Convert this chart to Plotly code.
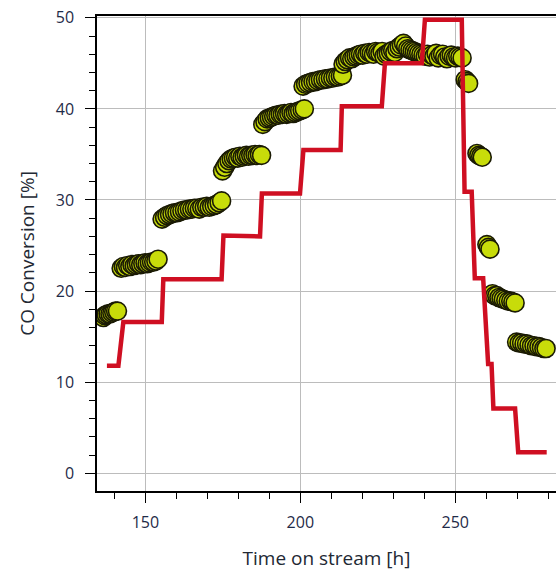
import plotly.graph_objects as go

# Measured CO conversion (markers)
time_h = [
    136.4, 136.9, 137.4, 138.0, 138.6, 139.2, 139.8, 140.4, 141.0,
    142.2, 142.9, 143.6, 144.3, 145.0, 145.7, 146.4, 147.1, 147.8, 148.5,
    149.2, 149.9, 150.6, 151.3, 152.0, 152.7, 153.4, 154.1,
    155.4, 156.2, 157.0, 157.8, 158.6, 159.4, 160.2, 161.0, 161.8, 162.6,
    163.4, 164.2, 165.0, 165.8, 166.6, 167.4, 168.2, 169.0, 169.8, 170.6,
    171.4, 172.2, 173.0, 173.8, 174.6,
    174.9, 175.6, 176.3, 177.0, 177.7, 178.4, 179.1, 179.8, 180.5, 181.2,
    181.9, 182.6, 183.3, 184.0, 184.7, 185.4, 186.1, 186.8, 187.5,
    187.9, 188.6, 189.3, 190.0, 190.7, 191.4, 192.1, 192.8, 193.5, 194.2,
    194.9, 195.6, 196.3, 197.0, 197.7, 198.4, 199.1, 199.8, 200.6, 201.3,
    200.9, 201.7, 202.5, 203.3, 204.1, 204.9, 205.7, 206.5, 207.3, 208.1,
    208.9, 209.7, 210.5, 211.3, 212.1, 212.9, 213.6,
    213.8, 214.5, 215.2, 215.9, 216.6, 217.3, 218.0, 218.7, 219.4, 220.1,
    220.8, 221.5, 222.2, 222.9, 223.6, 224.3, 225.0, 225.7, 226.4,
    227.0, 227.7, 228.4, 229.1, 229.8, 230.5, 231.2, 231.9, 232.6, 233.3,
    234.0, 234.7, 235.4, 236.1, 236.8, 237.5, 238.2, 238.9, 239.6,
    240.3, 241.0, 241.7, 242.4, 243.1, 243.8, 244.5, 245.2, 245.9, 246.6,
    247.3, 248.0, 248.7, 249.4, 250.1, 250.8, 251.5, 252.2,
    253.2, 253.8, 254.3,
    257.0, 257.6, 258.2, 258.7,
    260.2, 260.7, 261.2,
    262.0, 262.7, 263.4, 264.1, 264.8, 265.5, 266.3, 267.1, 267.9, 268.6, 269.3,
    269.8, 270.6, 271.4, 272.2, 273.0, 273.8, 274.6, 275.4, 276.2, 277.0,
    277.8, 278.6, 279.3,
]
co_conv = [
    17.1, 17.3, 17.4, 17.5, 17.5, 17.6, 17.7, 17.8, 17.8,
    22.5, 22.7, 22.6, 22.8, 22.7, 22.9, 22.8, 22.9, 23.0, 22.9,
    23.0, 23.1, 23.0, 23.1, 23.2, 23.2, 23.3, 23.5,
    27.9, 28.1, 28.3, 28.4, 28.5, 28.6, 28.6, 28.7, 28.8, 28.9,
    28.9, 29.0, 29.0, 29.1, 29.1, 29.0, 29.2, 29.2, 29.3, 29.2,
    29.3, 29.4, 29.5, 29.7, 29.9,
    33.2, 33.6, 34.0, 34.3, 34.5, 34.6, 34.7, 34.6, 34.8, 34.7,
    34.8, 34.9, 34.8, 34.9, 34.9, 35.0, 34.9, 35.0, 34.9,
    38.3, 38.6, 38.9, 39.0, 39.1, 39.2, 39.3, 39.3, 39.4, 39.4,
    39.5, 39.4, 39.5, 39.6, 39.5, 39.6, 39.7, 39.8, 39.9, 40.0,
    42.5, 42.7, 42.8, 42.9, 43.0, 43.0, 43.1, 43.2, 43.2, 43.3,
    43.3, 43.4, 43.4, 43.5, 43.5, 43.6, 43.7,
    44.9, 45.2, 45.4, 45.6, 45.5, 45.7, 45.8, 45.9, 46.0, 45.9,
    46.1, 46.0, 46.2, 46.1, 46.0, 46.3, 46.2, 46.1, 46.3,
    45.8, 46.0, 46.1, 46.3, 46.4, 46.2, 46.6, 46.8, 47.0, 47.2,
    46.9, 46.6, 46.5, 46.4, 46.3, 46.2, 46.1, 46.0, 45.9,
    45.8, 46.0, 45.7, 45.9, 45.8, 46.1, 45.6, 45.9, 46.0, 45.7,
    45.5, 45.8, 45.9, 45.7, 45.6, 45.8, 45.7, 45.6,
    43.2, 43.0, 42.8,
    35.1, 34.9, 34.8, 34.7,
    25.1, 24.8, 24.6,
    19.7, 19.5, 19.5, 19.3, 19.2, 19.1, 19.0, 18.9, 18.9, 18.8, 18.7,
    14.4, 14.3, 14.3, 14.2, 14.2, 14.1, 14.0, 14.0, 13.9, 13.9,
    13.8, 13.7, 13.7,
]

# Stepwise reference conversion (red line)
step_time = [137.6, 141.3, 142.9, 155.3, 155.8, 174.6, 175.2, 187.0, 187.6, 199.9,
             201.0, 213.0, 213.4, 226.3, 227.3, 239.2, 240.2, 252.1, 253.0, 255.3,
             256.3, 259.0, 260.6, 261.7, 262.3, 269.3, 270.3, 279.5]
step_conv = [11.8, 11.8, 16.6, 16.6, 21.3, 21.3, 26.1, 26.0, 30.7, 30.7,
             35.5, 35.5, 40.3, 40.3, 45.0, 45.0, 49.8, 49.8, 30.9, 30.9,
             21.4, 21.4, 12.0, 12.0, 7.1, 7.1, 2.3, 2.3]

x_ticks = [150, 200, 250]
y_ticks = [0, 10, 20, 30, 40, 50]

fig = go.Figure()
fig.add_trace(go.Scatter(
    x=time_h, y=co_conv, mode="markers",
    marker=dict(size=18, color="#c8dc0a", line=dict(color="#1a1a04", width=1.6)),
    showlegend=False,
))
fig.add_trace(go.Scatter(
    x=step_time, y=step_conv, mode="lines",
    line=dict(color="#cf0f22", width=4.5),
    showlegend=False,
))

tick_font = dict(family="Open Sans", size=16, color="#1f2b48")
title_font = dict(family="Open Sans", size=19, color="#222833")

fig.update_layout(
    width=556, height=573,
    margin=dict(l=97, r=0, t=16, b=82),
    paper_bgcolor="white", plot_bgcolor="white",
    xaxis=dict(
        range=[134.4, 282.5], tickvals=x_ticks, ticks="outside", ticklen=10,
        tickwidth=1, tickcolor="black", showline=True, linecolor="black", linewidth=1.5,
        mirror=True, showgrid=True, gridcolor="#bcbcbc", gridwidth=1, zeroline=False,
        minor=dict(dtick=10, tick0=0, ticks="outside", ticklen=6, tickcolor="black", showgrid=False),
        tickfont=tick_font, ticklabelstandoff=6,
        title=dict(text="Time on stream [h]", font=title_font, standoff=20),
    ),
    yaxis=dict(
        range=[-1.95, 50.2], tickvals=y_ticks, ticks="outside", ticklen=10,
        tickwidth=1, tickcolor="black", showline=True, linecolor="black", linewidth=1.5,
        showgrid=True, gridcolor="#bcbcbc", gridwidth=1, zeroline=False,
        minor=dict(dtick=2, tick0=0, ticks="outside", ticklen=6, tickcolor="black", showgrid=False),
        tickfont=tick_font, ticklabelstandoff=8,
        title=dict(text="CO Conversion [%]", font=title_font, standoff=16),
    ),
)

fig.write_html("out.html")
